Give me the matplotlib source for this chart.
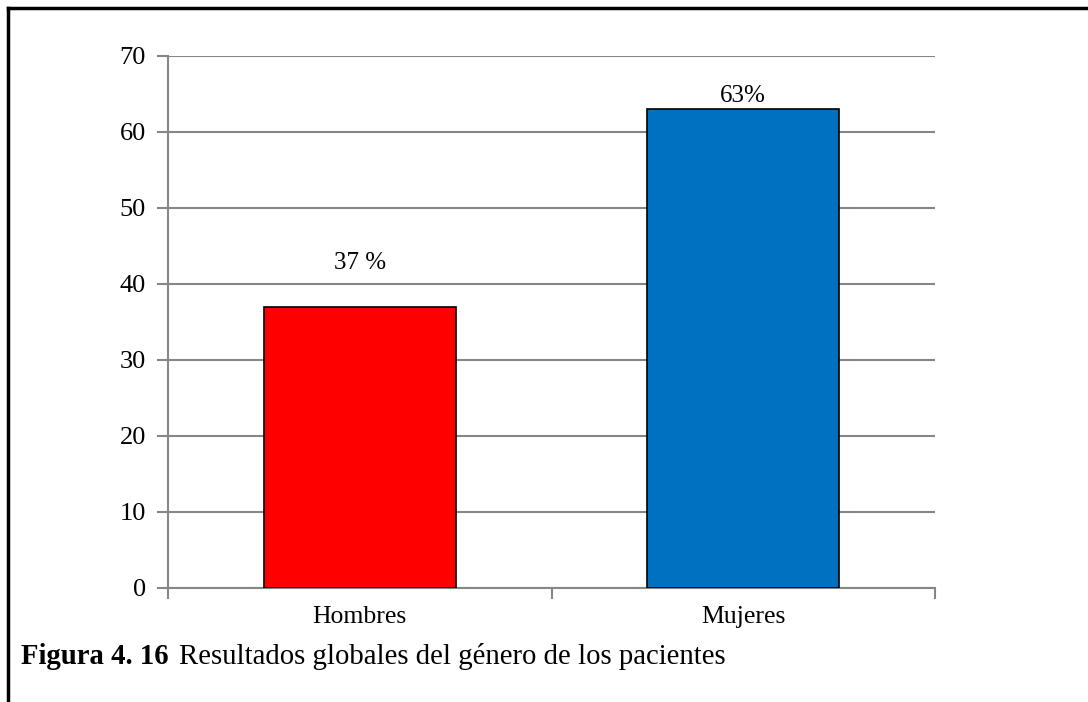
import matplotlib.pyplot as plt
from matplotlib.lines import Line2D

categories = ['Hombres', 'Mujeres']
values = [37, 63]
labels = ['37 %', '63%']
label_heights = [42.8, 64.8]
colors = ['#FF0000', '#0070C0']
yticks = [0, 10, 20, 30, 40, 50, 60, 70]

plt.rcParams['font.family'] = ['Liberation Serif', 'DejaVu Serif']

fig = plt.figure(figsize=(10.88, 7.02), dpi=100)
ax = fig.add_axes([168 / 1088, 1 - 588 / 702, (935 - 168) / 1088, (588 - 56) / 702])

x = range(len(categories))
ax.bar(x, values, width=0.5, color=colors, edgecolor='black', linewidth=1.2, zorder=3)
for xi, lab, h in zip(x, labels, label_heights):
    ax.text(xi, h, lab, ha='center', va='center', fontsize=18)

ax.set_xlim(-0.5, 1.5)
ax.set_ylim(0, 70)
ax.set_yticks(yticks)
ax.set_xticks(x)
ax.set_xticklabels(categories)
ax.set_xticks([-0.5, 0.5, 1.5], minor=True)
ax.tick_params(axis='x', which='major', length=0, pad=13, labelsize=18.5)
ax.tick_params(axis='x', which='minor', length=8, color='#868686', width=1.5)
ax.tick_params(axis='y', length=8, color='#868686', width=1.5, pad=8, labelsize=19)
ax.grid(axis='y', color='#868686', linewidth=1.5, zorder=0)
for side in ['top', 'right']:
    ax.spines[side].set_visible(False)
for side in ['left', 'bottom']:
    ax.spines[side].set_color('#868686')
    ax.spines[side].set_linewidth(1.5)

# page frame around the figure
fig.add_artist(Line2D([8 / 1088, 1], [1 - 8 / 702, 1 - 8 / 702], color='black', linewidth=2.5))
fig.add_artist(Line2D([8 / 1088, 8 / 1088], [0, 1 - 8 / 702], color='black', linewidth=2.5))

fig.text(21 / 1088, 1 - 664 / 702, 'Figura 4. 16', fontsize=20.7, fontweight='bold', va='baseline')
fig.text(179 / 1088, 1 - 664 / 702, 'Resultados globales del género de los pacientes',
         fontsize=20.7, va='baseline')

fig.savefig('out.png', dpi=100)
